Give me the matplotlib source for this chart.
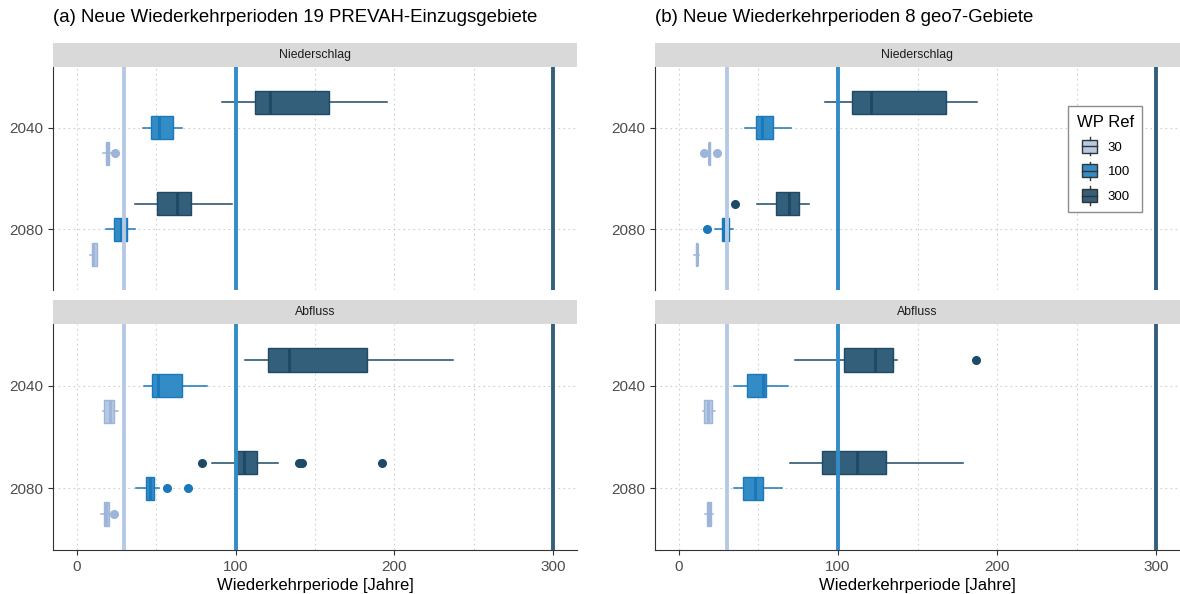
import matplotlib
matplotlib.use("Agg")
import matplotlib.pyplot as plt
from matplotlib.legend_handler import HandlerBase
from matplotlib.patches import Rectangle, Patch
from matplotlib.lines import Line2D

plt.rcParams["font.family"] = ["Liberation Sans", "DejaVu Sans"]

YEARS = ["2040", "2080"]
REFS = [30, 100, 300]
REF_LABELS = ["30", "100", "300"]

# box stats: (whislo, q1, med, q3, whishi)
# order: 2040/30, 2040/100, 2040/300, 2080/30, 2080/100, 2080/300
A_NIED = [(16.3, 18.6, 19.2, 20.2, 21.5), (41.4, 46.8, 51.8, 60.6, 66.0),
          (91.2, 112.0, 121.9, 158.8, 195.1), (8.2, 9.4, 10.5, 12.6, 12.8),
          (18.4, 23.4, 27.7, 31.4, 36.8), (36.4, 50.7, 62.8, 71.7, 97.7)]
A_NIED_OUT = [[24.0], [], [], [], [], []]

A_ABFL = [(16.2, 16.9, 20.6, 23.4, 25.8), (42.5, 47.4, 51.3, 66.1, 81.9),
          (106.1, 120.4, 133.4, 183.0, 236.7), (15.4, 17.3, 18.6, 20.1, 21.0),
          (37.5, 43.3, 46.1, 48.7, 51.8), (85.3, 99.8, 105.3, 113.7, 126.7)]
A_ABFL_OUT = [[], [], [], [23.2], [57.0, 70.2], [79.1, 139.7, 142.1, 192.1]]

B_NIED = [(18.7, 18.9, 19.1, 19.3, 19.5), (41.3, 48.5, 52.1, 59.1, 70.6),
          (92.1, 108.9, 120.6, 167.7, 187.7), (9.4, 10.9, 11.1, 11.3, 12.8),
          (22.8, 27.0, 28.5, 31.3, 34.0), (49.4, 60.9, 69.1, 75.5, 81.5)]
B_NIED_OUT = [[15.7, 23.8], [], [], [], [17.9], [35.1]]

B_ABFL = [(14.9, 16.0, 18.3, 20.6, 22.6), (34.5, 43.0, 52.6, 54.7, 68.5),
          (72.8, 103.6, 123.4, 134.9, 137.0), (16.4, 17.4, 18.9, 20.4, 21.7),
          (34.5, 40.6, 47.9, 53.0, 64.7), (70.0, 90.2, 112.1, 130.2, 178.7)]
B_ABFL_OUT = [[], [], [186.8], [], [], []]

EDGE = ["#9db5d8", "#1a78bb", "#1d4a67"]
FILL = ["#b6c9e4", "#338cc6", "#345f7b"]
OFFSETS = [0.25, 0.0, -0.25]

W, H = 1180, 594
fig = plt.figure(figsize=(W / 100, H / 100), dpi=100)


def box(l, t, r, b):
    return [l / W, 1 - b / H, (r - l) / W, (b - t) / H]


def draw_panel(ax, stats, fliers, bottom):
    for k, (s, fl) in enumerate(zip(stats, fliers)):
        yi, ri = divmod(k, 3)
        st = dict(whislo=s[0], q1=s[1], med=s[2], q3=s[3], whishi=s[4], fliers=fl)
        ec, fc = EDGE[ri], FILL[ri]
        ax.bxp([st], positions=[yi + OFFSETS[ri]], widths=0.23,
               orientation="horizontal", patch_artist=True, showcaps=False,
               boxprops=dict(facecolor=fc, edgecolor=ec, lw=1.0),
               medianprops=dict(color=ec, lw=2.2),
               whiskerprops=dict(color=ec, lw=1.1),
               flierprops=dict(marker="o", markerfacecolor=ec, markeredgecolor=ec,
                               markersize=5.5),
               manage_ticks=False, zorder=3)
    for ref, c in zip(REFS, FILL):
        ax.axvline(ref, color=c, lw=2.8, zorder=4)
    ax.set_xlim(-15, 315)
    ax.set_ylim(1.6, -0.6)
    ax.set_yticks([0, 1], YEARS)
    ax.set_xticks([0, 100, 200, 300])
    ax.set_xticks([50, 150, 250], minor=True)
    ax.grid(which="both", axis="x", color="#cfcfcf", ls=(0, (1.5, 3)), lw=0.8, zorder=0)
    ax.grid(which="major", axis="y", color="#cfcfcf", ls=(0, (1.5, 3)), lw=0.8, zorder=0)
    for sp in ["top", "right"]:
        ax.spines[sp].set_visible(False)
    ax.spines["left"].set_color("#333333")
    ax.spines["bottom"].set_color("#333333")
    ax.tick_params(axis="both", which="major", labelsize=11, labelcolor="#4d4d4d",
                   color="#333333", length=3.5)
    ax.tick_params(axis="x", which="minor", length=0)
    if bottom:
        ax.set_xlabel("Wiederkehrperiode [Jahre]", fontsize=12, labelpad=3)
    else:
        ax.spines["bottom"].set_visible(False)
        ax.tick_params(axis="x", which="major", length=0, labelbottom=False)


def strip(rect, label):
    sa = fig.add_axes(rect)
    sa.set_facecolor("#d9d9d9")
    sa.set_xticks([]); sa.set_yticks([])
    for sp in sa.spines.values():
        sp.set_visible(False)
    sa.text(0.5, 0.5, label, ha="center", va="center", fontsize=8.8, color="#1a1a1a")


class BoxHandler(HandlerBase):
    # boxplot glyph for the legend keys
    def create_artists(self, legend, orig, xd, yd, w, h, fs, trans):
        fc = orig.get_facecolor()
        bw, bh = w * 0.85, h * 0.8
        x0, y0 = -xd + (w - bw) / 2, -yd + (h - bh) / 2
        xm, ym = -xd + w / 2, -yd + h / 2
        k = "#333333"
        return [Rectangle((x0, y0), bw, bh, fc=fc, ec=k, lw=1.0, transform=trans),
                Line2D([x0, x0 + bw], [ym, ym], color=k, lw=1.0, transform=trans),
                Line2D([xm, xm], [y0 + bh, y0 + bh + 2], color=k, lw=1.0, transform=trans),
                Line2D([xm, xm], [y0, y0 - 2], color=k, lw=1.0, transform=trans)]


panels = [
    (53, 577, A_NIED, A_NIED_OUT, A_ABFL, A_ABFL_OUT,
     "(a) Neue Wiederkehrperioden 19 PREVAH-Einzugsgebiete"),
    (655, 1180, B_NIED, B_NIED_OUT, B_ABFL, B_ABFL_OUT,
     "(b) Neue Wiederkehrperioden 8 geo7-Gebiete"),
]

for l, r, n_st, n_out, q_st, q_out, title in panels:
    ax1 = fig.add_axes(box(l, 67, r, 290))
    draw_panel(ax1, n_st, n_out, bottom=False)
    strip(box(l, 43, r, 67), "Niederschlag")
    ax2 = fig.add_axes(box(l, 324, r, 550))
    draw_panel(ax2, q_st, q_out, bottom=True)
    strip(box(l, 300, r, 324), "Abfluss")
    fig.text(l / W, 1 - 18 / H, title, fontsize=13.4, ha="left", va="center")
    last_top = ax1

handles = [Patch(facecolor=FILL[i], edgecolor=EDGE[i], label=REF_LABELS[i]) for i in range(3)]
leg = last_top.legend(handles=handles, title="WP Ref", loc="upper left",
                      bbox_to_anchor=(0.787, 0.825), borderaxespad=0,
                      fontsize=9.5, title_fontsize=12,
                      handler_map={Patch: BoxHandler()}, handlelength=1.35, handleheight=1.5,
                      handletextpad=0.7, labelspacing=0.65, borderpad=0.65, fancybox=False,
                      edgecolor="#8c8c8c", framealpha=1)
leg.get_frame().set_linewidth(1.0)
leg.set_zorder(10)

fig.savefig("out.png", dpi=100)
